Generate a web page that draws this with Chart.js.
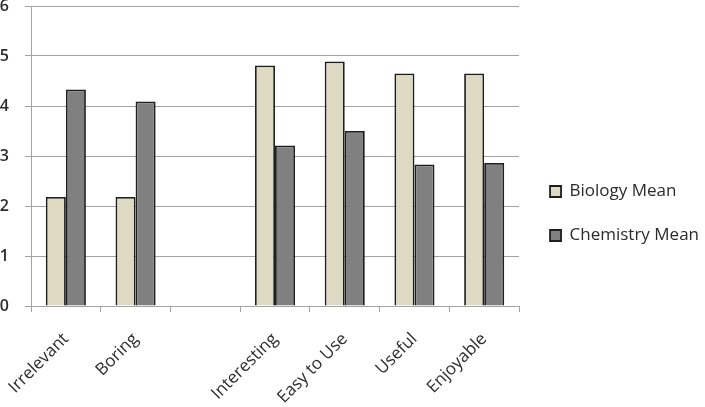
<!DOCTYPE html>
<html lang="en">
<head>
    <meta charset="UTF-8">
    <title>Biology vs Chemistry Means</title>
    <script src="https://cdn.jsdelivr.net/npm/chart.js@4.4.0/dist/chart.umd.min.js"></script>
    <style>
        html, body { margin: 0; padding: 0; background: #fff; }
        #wrap { width: 705px; height: 407px; }
    </style>
</head>
<body>
    <div id="wrap"><canvas id="chart" width="705" height="407"></canvas></div>

    <script>
        const categories = ['Irrelevant', 'Boring', '', 'Interesting', 'Easy to Use', 'Useful', 'Enjoyable'];
        const biologyMean = [2.18, 2.18, null, 4.81, 4.89, 4.65, 4.65];
        const chemistryMean = [4.33, 4.09, null, 3.21, 3.50, 2.83, 2.86];
        const yTicks = [0, 1, 2, 3, 4, 5, 6];

        const gridGray = '#a2a2a2';
        const textColor = '#2b2b2b';
        const fontFamily = '"Open Sans", "Liberation Sans", sans-serif';

        // move the legend a little right/down, like the original
        const legendNudge = {
            id: 'legendNudge',
            afterLayout(chart) {
                const lg = chart.legend;
                if (!lg) return;
                lg.left += 4;
                lg.right += 4;
                lg.top += 10;
                lg.bottom += 10;
            }
        };

        new Chart(document.getElementById('chart'), {
            type: 'bar',
            data: {
                labels: categories,
                datasets: [{
                    label: 'Biology Mean',
                    data: biologyMean,
                    backgroundColor: '#ddd9c3',
                    borderColor: '#1e1e1e',
                    borderWidth: 1.8,
                    borderSkipped: 'bottom'
                }, {
                    label: 'Chemistry Mean',
                    data: chemistryMean,
                    backgroundColor: '#808080',
                    borderColor: '#1e1e1e',
                    borderWidth: 1.8,
                    borderSkipped: 'bottom'
                }]
            },
            plugins: [legendNudge],
            options: {
                responsive: false,
                animation: false,
                devicePixelRatio: 1,
                categoryPercentage: 0.575,
                barPercentage: 1,
                layout: { padding: 0 },
                plugins: {
                    tooltip: { enabled: false },
                    legend: {
                        position: 'right',
                        maxWidth: 187,
                        labels: {
                            boxWidth: 11,
                            boxHeight: 11,
                            padding: 27,
                            color: textColor,
                            font: { family: fontFamily, size: 17 }
                        }
                    }
                },
                scales: {
                    x: {
                        offset: true,
                        afterFit: axis => {
                            axis.height = 101;
                            axis.paddingLeft = 0;
                            axis.paddingRight = 0;
                        },
                        grid: {
                            display: true,
                            drawOnChartArea: false,
                            drawTicks: true,
                            tickLength: 6,
                            color: gridGray,
                            offset: true
                        },
                        border: { color: gridGray, width: 1 },
                        ticks: {
                            minRotation: 45,
                            maxRotation: 45,
                            padding: 17,
                            color: textColor,
                            font: { family: fontFamily, size: 17 }
                        }
                    },
                    y: {
                        min: 0,
                        max: 6,
                        afterBuildTicks: axis => { axis.ticks = yTicks.map(v => ({ value: v })); },
                        afterFit: axis => {
                            axis.width = 31;
                            axis.paddingTop = 6;
                        },
                        grid: {
                            color: gridGray,
                            tickLength: 6,
                            lineWidth: 1
                        },
                        border: { color: gridGray, width: 1 },
                        ticks: {
                            padding: 16,
                            color: textColor,
                            font: { family: fontFamily, size: 16, weight: '600' }
                        }
                    }
                }
            }
        });
    </script>
</body>
</html>
